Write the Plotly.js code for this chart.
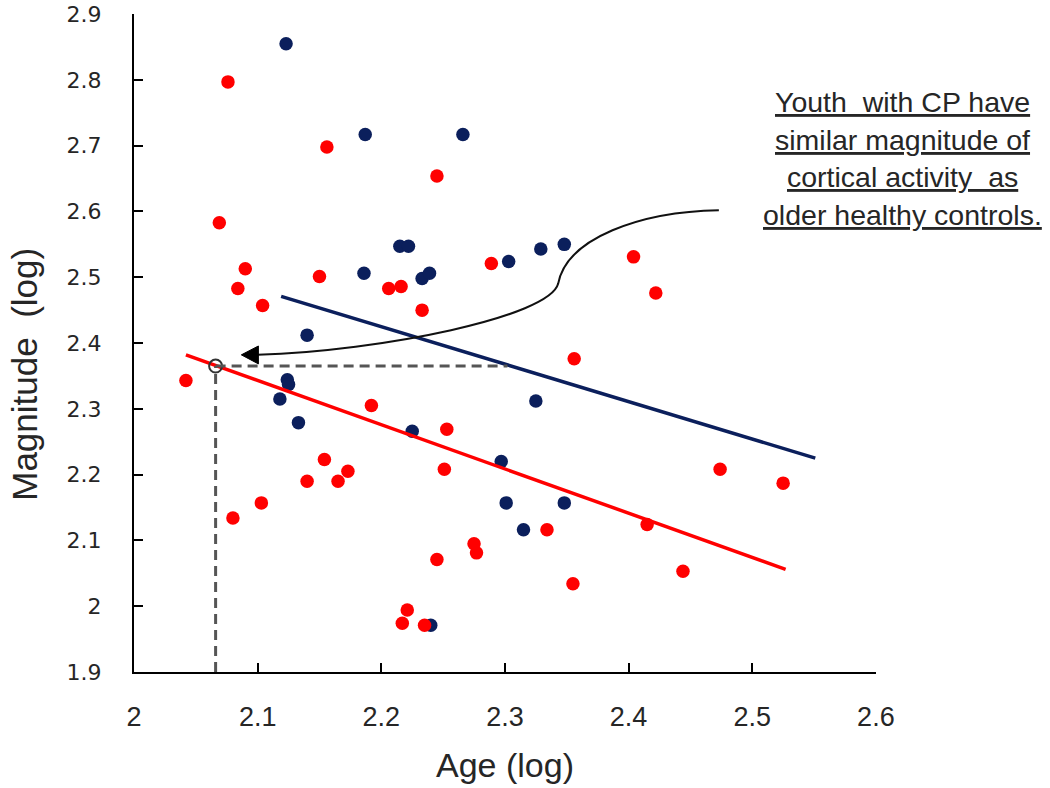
<!DOCTYPE html>
<html><head><meta charset="utf-8">
<script src="https://cdn.plot.ly/plotly-3.0.1.min.js"></script>
<style>html,body{margin:0;padding:0;background:#fff}</style>
</head><body><div id="chart" style="width:1050px;height:788px"></div>
<script>
// Youth with CP (navy)
const cpAge = [2.123, 2.187, 2.266, 2.186, 2.215, 2.222, 2.233, 2.239, 2.303, 2.329, 2.348, 2.140, 2.124, 2.125, 2.118, 2.133, 2.225, 2.240, 2.297, 2.301, 2.348, 2.315, 2.325];
const cpMag = [2.855, 2.717, 2.717, 2.506, 2.547, 2.547, 2.498, 2.506, 2.524, 2.543, 2.550, 2.412, 2.344, 2.337, 2.315, 2.279, 2.266, 1.971, 2.220, 2.157, 2.157, 2.116, 2.312];
// Healthy controls (red)
const hcAge = [2.076, 2.156, 2.245, 2.069, 2.090, 2.084, 2.104, 2.150, 2.206, 2.216, 2.233, 2.042, 2.192, 2.253, 2.251, 2.154, 2.140, 2.165, 2.173, 2.103, 2.080, 2.245, 2.275, 2.277, 2.221, 2.217, 2.235, 2.289, 2.404, 2.422, 2.356, 2.474, 2.525, 2.415, 2.334, 2.444, 2.355];
const hcMag = [2.797, 2.698, 2.654, 2.583, 2.513, 2.483, 2.457, 2.501, 2.483, 2.486, 2.450, 2.343, 2.305, 2.269, 2.208, 2.223, 2.190, 2.190, 2.205, 2.157, 2.134, 2.071, 2.095, 2.081, 1.994, 1.974, 1.971, 2.521, 2.531, 2.476, 2.376, 2.208, 2.187, 2.124, 2.116, 2.053, 2.034];
// Trend lines (endpoints)
const cpFitAge = [2.119, 2.551];
const cpFitMag = [2.471, 2.225];
const hcFitAge = [2.042, 2.527];
const hcFitMag = [2.382, 2.056];
// Reference point (equivalent magnitude)
const refAge = [2.066];
const refMag = [2.365];
// Tick values / labels
const xTicks = [2, 2.1, 2.2, 2.3, 2.4, 2.5, 2.6];
const xTickText = ['2', '2.1', '2.2', '2.3', '2.4', '2.5', '2.6'];
const yTicks = [1.9, 2, 2.1, 2.2, 2.3, 2.4, 2.5, 2.6, 2.7, 2.8, 2.9];
const yTickText = ['1.9', '2', '2.1', '2.2', '2.3', '2.4', '2.5', '2.6', '2.7', '2.8', '2.9'];
// Axis titles
const xTitle = 'Age (log)';
const yTitle = 'Magnitude  (log)';
// Callout text
const noteLines = ['Youth  with CP have', 'similar magnitude of', 'cortical activity  as', 'older healthy controls.'];
// Callout arrow curve (data coords): start, then two cubic segments
const arrowCurve = [[2.473, 2.602], [2.41, 2.600], [2.35, 2.56], [2.343, 2.49], [2.336, 2.44], [2.20, 2.388], [2.100, 2.382]];
const arrowHead = [[2.0868, 2.382], [2.1006, 2.3955], [2.1006, 2.3683]];

const NAVY = '#0b1f5c', RED = '#ff0000';
const TXT = '#262626';
const SANS = 'Liberation Sans, Arial, sans-serif';

const traces = [
  {x: cpAge, y: cpMag, type: 'scatter', mode: 'markers', name: 'CP',
   marker: {color: NAVY, size: 13.5}},
  {x: hcAge, y: hcMag, type: 'scatter', mode: 'markers', name: 'Controls',
   marker: {color: RED, size: 13.5}},
  {x: cpFitAge, y: cpFitMag, type: 'scatter', mode: 'lines', line: {color: NAVY, width: 3.5}},
  {x: hcFitAge, y: hcFitMag, type: 'scatter', mode: 'lines', line: {color: RED, width: 3.5}},
  {x: refAge, y: refMag, type: 'scatter', mode: 'markers',
   marker: {symbol: 'circle-open', size: 13, color: '#333', line: {width: 2, color: '#333'}}}
];

const p = arrowCurve.map(v => v[0] + ',' + v[1]);
const curvePath = 'M ' + p[0] + ' C ' + p[1] + ' ' + p[2] + ' ' + p[3] + ' C ' + p[4] + ' ' + p[5] + ' ' + p[6];
const h = arrowHead.map(v => v[0] + ',' + v[1]);
const headPath = 'M ' + h[0] + ' L ' + h[1] + ' L ' + h[2] + ' Z';

const shapes = [
  {type: 'line', xref: 'x', yref: 'y', x0: refAge[0], x1: 2.302, y0: refMag[0], y1: refMag[0],
   line: {color: '#555', width: 3, dash: '10px,6px'}},
  {type: 'line', xref: 'x', yref: 'y', x0: refAge[0], x1: refAge[0], y0: 1.9, y1: refMag[0],
   line: {color: '#555', width: 3, dash: '10px,6px'}},
  {type: 'path', xref: 'x', yref: 'y', path: curvePath, line: {color: '#111', width: 2}},
  {type: 'path', xref: 'x', yref: 'y', path: headPath, fillcolor: '#000', line: {color: '#000', width: 1}}
];

const noteY = [0.866, 0.809, 0.753, 0.695];
const annotations = noteLines.map((t, i) => ({
  text: '<u>' + t + '</u>', xref: 'paper', yref: 'paper', x: 1.036, y: noteY[i],
  xanchor: 'center', yanchor: 'middle', showarrow: false,
  font: {family: SANS, size: 28.5, color: TXT}
}));
annotations.push({
  text: yTitle, xref: 'paper', yref: 'paper', x: -0.148, y: 0.452,
  xanchor: 'center', yanchor: 'middle', textangle: -90, showarrow: false,
  font: {family: SANS, size: 35, color: TXT}
});

const layout = {
  width: 1050, height: 788, autosize: false,
  margin: {l: 134, r: 174, t: 14, b: 116},
  paper_bgcolor: '#fff', plot_bgcolor: '#fff',
  showlegend: false,
  xaxis: {
    range: [2, 2.6001], tickvals: xTicks, ticktext: xTickText,
    showgrid: false, zeroline: false, showline: true, linecolor: '#000', linewidth: 2,
    ticks: 'inside', ticklen: 9, tickwidth: 2, tickcolor: '#000',
    ticklabelstandoff: 20, ticklabeloverflow: 'allow',
    tickfont: {family: SANS, size: 27, color: TXT},
    title: {text: xTitle, standoff: 22, font: {family: SANS, size: 34, color: TXT}},
    automargin: false
  },
  yaxis: {
    range: [1.8999, 2.9002], tickvals: yTicks, ticktext: yTickText,
    showgrid: false, zeroline: false, showline: true, linecolor: '#000', linewidth: 2,
    ticks: 'inside', ticklen: 9, tickwidth: 2, tickcolor: '#000',
    ticklabelstandoff: 26, ticklabeloverflow: 'allow',
    tickfont: {family: 'DejaVu Sans, Verdana, sans-serif', size: 22, color: TXT},
    automargin: false
  },
  shapes: shapes,
  annotations: annotations
};

Plotly.newPlot('chart', traces, layout, {displayModeBar: false, staticPlot: true});
</script>
</body></html>
